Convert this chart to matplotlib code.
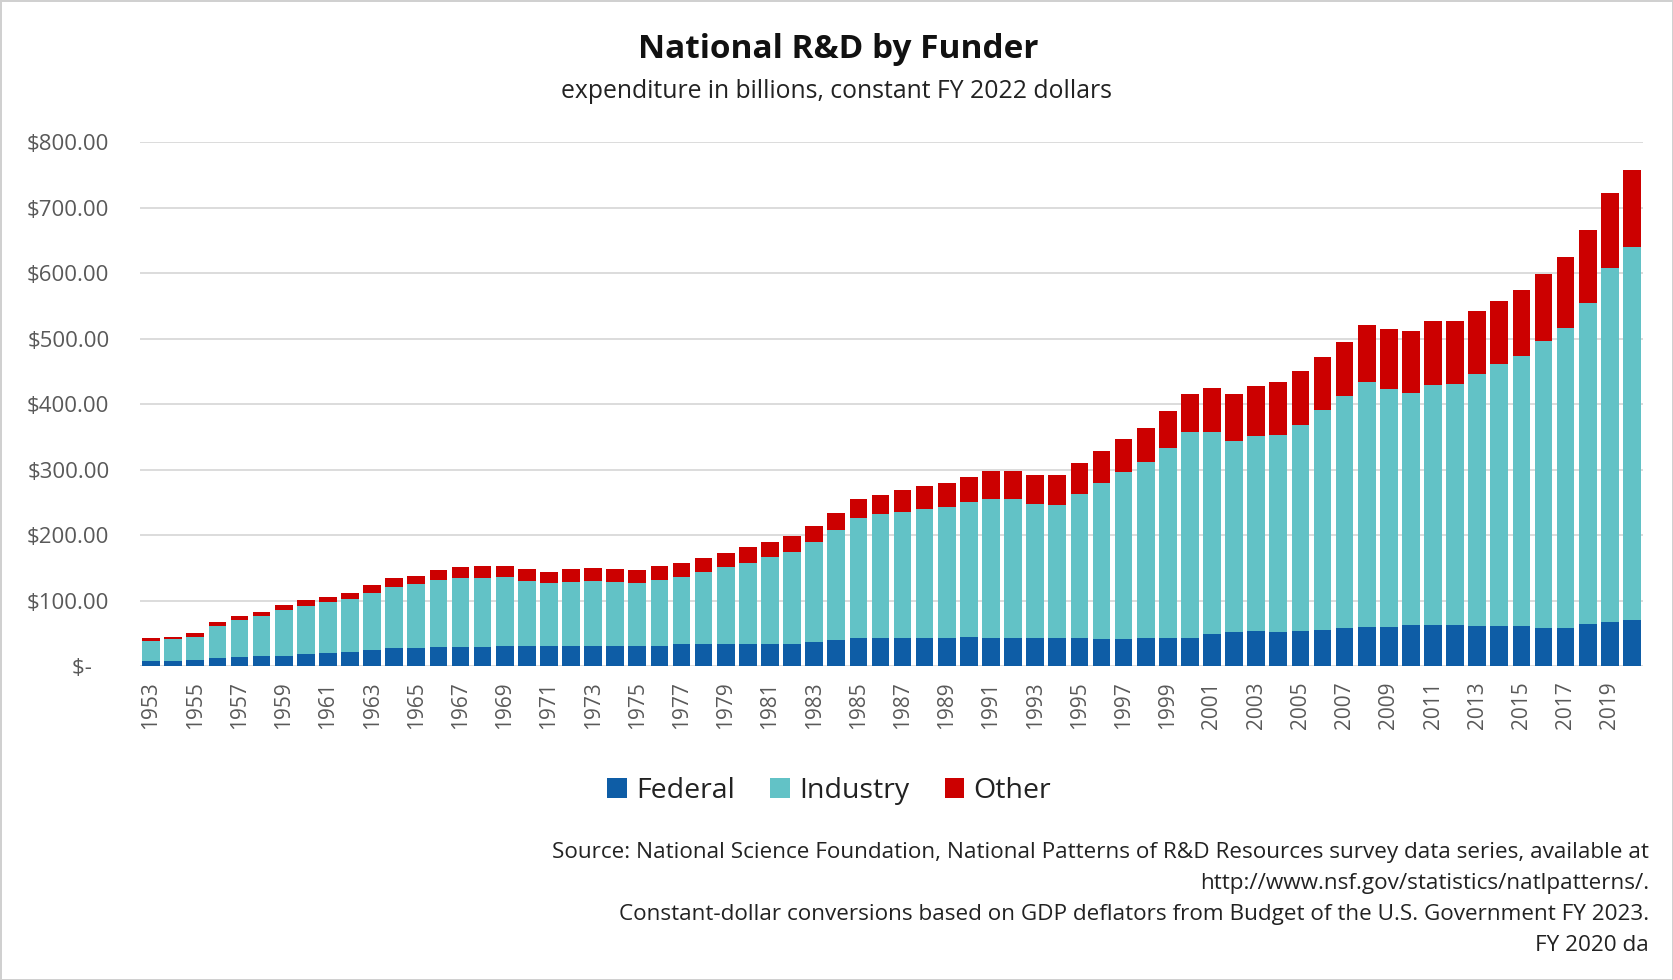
import matplotlib
matplotlib.use('Agg')
import matplotlib.pyplot as plt
import numpy as np

# ── Data (billions, constant FY 2022 dollars) ─────────────────────────────────
years = list(range(1953, 2021))

federal = [8, 8, 9, 12, 13, 15, 16, 18, 20, 21,
           25, 28, 28, 29, 29, 29, 30, 30, 30, 30,
           30, 30, 30, 31, 33, 34, 34, 34, 34, 34,
           36, 40, 42, 42, 42, 42, 43, 45, 42, 42,
           42, 42, 42, 41, 41, 42, 42, 43, 49, 52,
           53, 52, 53, 55, 58, 59, 60, 62, 63, 62,
           61, 61, 61, 58, 58, 64, 67, 70]

industry = [30, 33, 35, 49, 57, 62, 70, 74, 77, 81,
            87, 93, 97, 103, 106, 106, 106, 100, 97, 98,
            100, 99, 97, 101, 103, 109, 117, 124, 132, 140,
            153, 168, 184, 190, 193, 198, 199, 205, 213, 213,
            206, 204, 220, 238, 255, 269, 291, 314, 308, 292,
            298, 301, 315, 336, 354, 374, 363, 355, 366, 369,
            385, 400, 413, 438, 458, 490, 541, 570]

other = [4, 4, 6, 6, 6, 5, 7, 9, 9, 10,
         12, 13, 12, 15, 16, 18, 17, 18, 16, 20,
         20, 19, 19, 20, 22, 22, 22, 23, 23, 25,
         25, 26, 29, 29, 33, 35, 38, 39, 42, 43,
         44, 46, 48, 49, 50, 53, 56, 59, 67, 72,
         77, 80, 83, 81, 83, 88, 91, 95, 98, 95,
         96, 97, 100, 102, 108, 112, 114, 117]

series_names = ['Federal', 'Industry', 'Other']
y_ticks = [0, 100, 200, 300, 400, 500, 600, 700, 800]
y_labels = ['$-   ', '$100.00', '$200.00', '$300.00', '$400.00',
            '$500.00', '$600.00', '$700.00', '$800.00']

# colours
FED = '#0E5DA6'
IND = '#62C2C6'
OTH = '#CC0000'
GRID = '#D9D9D9'
TICK = '#595959'

plt.rcParams['font.family'] = ['Open Sans', 'DejaVu Sans']

W, H = 1673, 980
fig = plt.figure(figsize=(W / 100, H / 100), dpi=100)
fig.patch.set_facecolor('white')
fig.patch.set_edgecolor('#D0D0D0')
fig.patch.set_linewidth(2)

# plot area in pixel terms
left, right, top, bottom = 140, 1643, 142, 666
ax = fig.add_axes([left / W, 1 - bottom / H, (right - left) / W, (bottom - top) / H])

x = np.arange(len(years))
fed = np.array(federal)
ind = np.array(industry)
oth = np.array(other)
bw = 0.8
ax.bar(x, fed, bw, color=FED, label=series_names[0], zorder=3)
ax.bar(x, ind, bw, bottom=fed, color=IND, label=series_names[1], zorder=3)
ax.bar(x, oth, bw, bottom=fed + ind, color=OTH, label=series_names[2], zorder=3)

ax.set_xlim(-0.5, len(years) - 0.5)
ax.set_ylim(0, 800)
ax.set_yticks(y_ticks)
ax.set_yticklabels(y_labels)
ax.yaxis.grid(True, color=GRID, linewidth=1.3, zorder=0)
ax.set_axisbelow(True)

ax.set_xticks(x[::2])
ax.set_xticklabels([str(y) for y in years[::2]], rotation=90, va='top', ha='center')

for s in ax.spines.values():
    s.set_visible(False)
ax.tick_params(axis='y', length=0, pad=22, labelsize=16, labelcolor=TICK)
ax.tick_params(axis='x', length=0, pad=11, labelsize=15, labelcolor=TICK)

# ── Titles ────────────────────────────────────────────────────────────────────
fig.text(0.501, 1 - 50 / H, 'National R&D by Funder', ha='center', va='center',
         fontsize=24, fontweight='bold', color='#111111')
fig.text(0.500, 1 - 92 / H, 'expenditure in billions, constant FY 2022 dollars',
         ha='center', va='center', fontsize=17.8, color='#222222')

# ── Legend ────────────────────────────────────────────────────────────────────
fig.legend(loc='center', bbox_to_anchor=(829 / W, 1 - 791 / H), ncol=3,
           frameon=False, fontsize=20.5, handlelength=0.7, handleheight=0.7,
           handletextpad=0.3, columnspacing=1.25, labelcolor='#222222')

# ── Source note ───────────────────────────────────────────────────────────────
notes = [
    'Source: National Science Foundation, National Patterns of R&D Resources survey data series, available at',
    'http://www.nsf.gov/statistics/natlpatterns/.',
    'Constant-dollar conversions based on GDP deflators from Budget of the U.S. Government FY 2023.',
    'FY 2020 da',
]
for i, line in enumerate(notes):
    fig.text(1649 / W, 1 - (852 + 31 * i) / H, line, ha='right', va='center',
             fontsize=16.2, color='#222222')

fig.savefig('out.png', dpi=100, facecolor='white', edgecolor=fig.get_edgecolor())
